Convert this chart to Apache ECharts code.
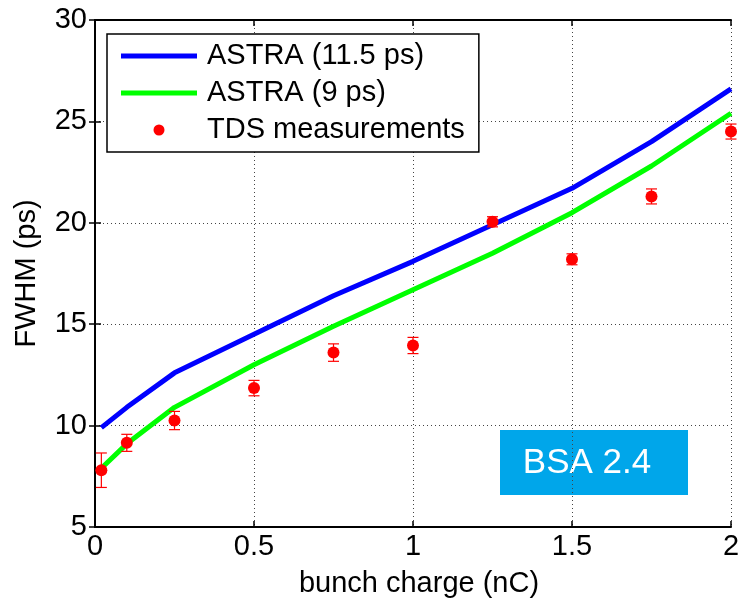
<!DOCTYPE html>
<html>
<head>
<meta charset="utf-8">
<script src="https://cdn.jsdelivr.net/npm/echarts@6/dist/echarts.min.js"></script>
<style>
html,body{margin:0;padding:0;background:#fff;}
#chart{width:743px;height:603px;}
</style>
</head>
<body>
<div id="chart"></div>
<script>
// ---- data ----
const xCharge   = [0.02, 0.1, 0.25, 0.5, 0.75, 1.0, 1.25, 1.5, 1.75, 2.0];
const astra115  = [9.9, 10.9, 12.6, 14.5, 16.4, 18.1, 19.9, 21.7, 24.0, 26.6];
const astra9    = [7.9, 9.1, 10.9, 13.0, 14.9, 16.7, 18.5, 20.5, 22.8, 25.4];
const tdsX      = [0.02, 0.1, 0.25, 0.5, 0.75, 1.0, 1.25, 1.5, 1.75, 2.0];
const tdsY      = [7.8, 9.15, 10.25, 11.85, 13.6, 13.95, 20.05, 18.2, 21.3, 24.5];
const tdsErr    = [0.85, 0.42, 0.45, 0.38, 0.43, 0.4, 0.25, 0.27, 0.37, 0.37];
const seriesNames = ['ASTRA (11.5 ps)', 'ASTRA (9 ps)', 'TDS measurements'];
const xTicks = [0, 0.5, 1, 1.5, 2];
const yTicks = [5, 10, 15, 20, 25, 30];
const xTitle = 'bunch charge (nC)';
const yTitle = 'FWHM (ps)';
const boxLabel = 'BSA 2.4';

const FONT = "'Liberation Sans', Arial, sans-serif";
const chart = echarts.init(document.getElementById('chart'), null, {renderer: 'canvas'});

const lineIcon = 'path://M0,0H76V5H0Z';
const gridLine = {show: true, lineStyle: {color: '#444', width: 1, type: [1, 3]}};
const axLine = {show: true, lineStyle: {color: '#000', width: 2}};
const tick = {show: true, inside: true, length: 6, lineStyle: {color: '#000', width: 1.5}};

const option = {
  animation: false,
  textStyle: {fontFamily: FONT},
  grid: {left: 95, right: 12, top: 20, bottom: 76, containLabel: false},
  legend: {
    orient: 'vertical', left: 107, top: 34,
    selectedMode: false,
    backgroundColor: '#fff', borderColor: '#000', borderWidth: 1.5,
    padding: [7, 14, 7, 14],
    itemWidth: 76, itemHeight: 11, itemGap: 7,
    textStyle: {fontSize: 29, color: '#000', lineHeight: 30, fontFamily: FONT, padding: [0, 0, 0, 5]},
    data: [
      {name: seriesNames[0], icon: lineIcon},
      {name: seriesNames[1], icon: lineIcon},
      {name: seriesNames[2], icon: 'circle', itemStyle: {opacity: 1}}
    ]
  },
  xAxis: [{
    type: 'value', position: 'bottom', min: xTicks[0], max: xTicks[xTicks.length - 1],
    interval: xTicks[1] - xTicks[0],
    axisLine: axLine, axisTick: tick, splitLine: gridLine,
    axisLabel: {fontSize: 29, color: '#000', margin: 5, fontFamily: FONT},
    name: xTitle, nameLocation: 'middle', nameGap: 42,
    nameTextStyle: {fontSize: 29, color: '#000', fontFamily: FONT, padding: [0, 0, 0, 12]}
  }, {
    type: 'value', position: 'top', min: xTicks[0], max: xTicks[xTicks.length - 1],
    interval: xTicks[1] - xTicks[0],
    axisLine: axLine, axisTick: tick, splitLine: {show: false}, axisLabel: {show: false}
  }],
  yAxis: [{
    type: 'value', position: 'left', min: yTicks[0], max: yTicks[yTicks.length - 1],
    interval: yTicks[1] - yTicks[0],
    axisLine: axLine, axisTick: tick, splitLine: gridLine,
    axisLabel: {fontSize: 29, color: '#000', margin: 8, fontFamily: FONT},
    name: yTitle, nameLocation: 'middle', nameGap: 54,
    nameTextStyle: {fontSize: 29, color: '#000', fontFamily: FONT}
  }, {
    type: 'value', position: 'right', min: yTicks[0], max: yTicks[yTicks.length - 1],
    interval: yTicks[1] - yTicks[0],
    axisLine: axLine, axisTick: tick, splitLine: {show: false}, axisLabel: {show: false}
  }],
  series: [{
    name: seriesNames[0], type: 'line', symbol: 'none', color: '#0000ff',
    lineStyle: {width: 5, color: '#0000ff'}, z: 2,
    data: xCharge.map((x, i) => [x, astra115[i]])
  }, {
    name: seriesNames[1], type: 'line', symbol: 'none', color: '#00ff00',
    lineStyle: {width: 5, color: '#00ff00'}, z: 2,
    data: xCharge.map((x, i) => [x, astra9[i]])
  }, {
    name: 'errorbars', type: 'custom', z: 4,
    data: tdsX.map((x, i) => [x, tdsY[i] - tdsErr[i], tdsY[i] + tdsErr[i]]),
    renderItem: function (params, api) {
      const lo = api.coord([api.value(0), api.value(1)]);
      const hi = api.coord([api.value(0), api.value(2)]);
      const hw = 5.5;
      const st = {stroke: '#ff0000', lineWidth: 1.2};
      return {type: 'group', children: [
        {type: 'line', shape: {x1: lo[0], y1: lo[1], x2: hi[0], y2: hi[1]}, style: st},
        {type: 'line', shape: {x1: lo[0] - hw, y1: lo[1], x2: lo[0] + hw, y2: lo[1]}, style: st},
        {type: 'line', shape: {x1: hi[0] - hw, y1: hi[1], x2: hi[0] + hw, y2: hi[1]}, style: st}
      ]};
    }
  }, {
    name: seriesNames[2], type: 'scatter', symbol: 'circle', symbolSize: 12,
    color: '#ff0000', itemStyle: {color: '#ff0000', opacity: 1}, z: 5,
    data: tdsX.map((x, i) => [x, tdsY[i]])
  }],
  graphic: [{
    type: 'group', left: 500, top: 430,
    children: [
      {type: 'rect', shape: {x: 0, y: 0, width: 188, height: 65}, style: {fill: '#00a6ea'}},
      {type: 'text', x: 87, y: 33, style: {text: boxLabel, fill: '#fff', fontSize: 35, fontFamily: FONT, align: 'center', verticalAlign: 'middle'}}
    ]
  }]
};
chart.setOption(option);
</script>
</body>
</html>
